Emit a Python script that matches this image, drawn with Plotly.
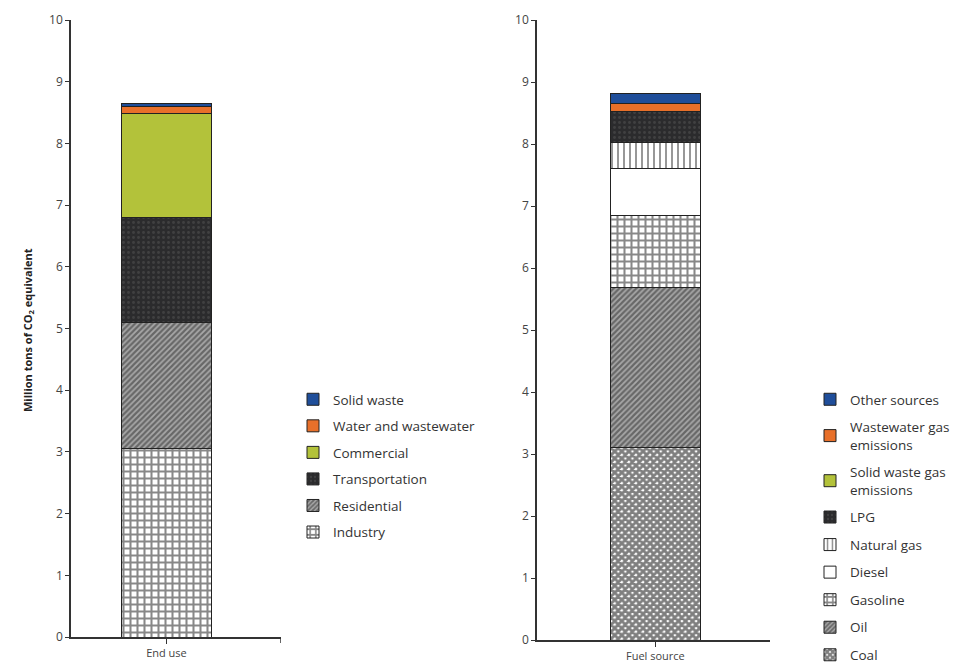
import plotly.graph_objects as go

# ---- data ----
end_use_cat = ["End use"]
end_use_names = ["Industry", "Residential", "Transportation", "Commercial",
                 "Water and wastewater", "Solid waste"]
end_use_vals = [3.05, 2.05, 1.70, 1.68, 0.12, 0.05]

fuel_cat = ["Fuel source"]
fuel_names = ["Coal", "Oil", "Gasoline", "Diesel", "Natural gas", "LPG",
              "Solid waste gas<br>emissions", "Wastewater gas<br>emissions", "Other sources"]
fuel_vals = [3.11, 2.57, 1.17, 0.75, 0.43, 0.50, 0.0, 0.12, 0.16]

y_ticks = [0, 1, 2, 3, 4, 5, 6, 7, 8, 9, 10]

# ---- styles ----
BLUE = "#1f4e9a"
ORANGE = "#e8702a"
GREEN = "#b3c23a"
DARK = "#2b2b2d"

GRID = dict(color="white", pattern=dict(shape="+", fgcolor="#111", bgcolor="white", size=7, solidity=0.5))
DIAG = dict(color="#999", pattern=dict(shape="/", fgcolor="#262626", bgcolor="#a8a8a8", size=4, solidity=0.55))
DOTS = dict(color=DARK, pattern=dict(shape=".", fgcolor="#555", bgcolor=DARK, size=5, solidity=0.25))

end_use_styles = [GRID, DIAG, DOTS, dict(color=GREEN), dict(color=ORANGE), dict(color=BLUE)]
fuel_styles = [
    dict(color="white", pattern=dict(shape="x", fgcolor="#000", bgcolor="white", size=5, solidity=0.8)),
    DIAG,
    GRID,
    dict(color="white"),
    dict(color="white", pattern=dict(shape="|", fgcolor="#1a1a1a", bgcolor="white", size=6, solidity=0.3)),
    DOTS,
    dict(color=GREEN),
    dict(color=ORANGE),
    dict(color=BLUE),
]

fig = go.Figure()
for i, (name, v, st) in enumerate(zip(end_use_names, end_use_vals, end_use_styles)):
    fig.add_trace(go.Bar(x=end_use_cat, y=[v], name=name, width=0.47, legendgroup="a" + name,
                         legendrank=100 - i,
                         marker=dict(line=dict(color="#222", width=1), **st),
                         xaxis="x", yaxis="y", legend="legend"))
for i, (name, v, st) in enumerate(zip(fuel_names, fuel_vals, fuel_styles)):
    fig.add_trace(go.Bar(x=fuel_cat, y=[v], name=name, width=0.47, legendgroup="b" + name,
                         legendrank=100 - i,
                         marker=dict(line=dict(color="#222", width=1), **st),
                         xaxis="x2", yaxis="y2", legend="legend2"))

W, H = 956, 666
FONT = "Open Sans, Liberation Sans, sans-serif"
axis_font = dict(family=FONT, size=12, color="#444")
yax = dict(range=[0, 10], tickvals=y_ticks, showline=True, linecolor="#333", linewidth=1.5,
           ticks="outside", ticklen=4, tickcolor="#333", showgrid=False, zeroline=False,
           tickfont=axis_font, fixedrange=True, automargin=False)
xax = dict(showline=True, linecolor="#333", linewidth=1.5,
           ticks="outside", ticklen=5, tickcolor="#333", showgrid=False, zeroline=False,
           tickfont=dict(family=FONT, size=11, color="#444"), automargin=False)

legend_font = dict(family=FONT, size=13.5, color="#333")

fig.update_layout(
    width=W, height=H,
    margin=dict(l=0, r=0, t=0, b=0, autoexpand=False),
    paper_bgcolor="white", plot_bgcolor="white",
    barmode="stack",
    xaxis=dict(domain=[71 / W, 281 / W], anchor="y", range=[-0.5, 0.6], **xax),
    yaxis=dict(domain=[29 / H, 646 / H], anchor="x", **yax),
    xaxis2=dict(domain=[537 / W, 770 / W], anchor="y2", range=[-0.62, 0.6], **xax),
    yaxis2=dict(domain=[26 / H, 646 / H], anchor="x2", **yax),
    legend=dict(x=293 / W, y=(H - 384) / H, xanchor="left", yanchor="top",
                traceorder="grouped", font=legend_font, tracegroupgap=6,
                itemwidth=30, bgcolor="rgba(0,0,0,0)"),
    legend2=dict(x=810 / W, y=(H - 384) / H, xanchor="left", yanchor="top",
                 traceorder="grouped", font=legend_font, tracegroupgap=7,
                 itemwidth=30, bgcolor="rgba(0,0,0,0)"),
    annotations=[dict(text="<b>Million tons of CO<sub>2</sub> equivalent</b>",
                      x=18 / W, y=(H - 330) / H, xref="paper", yref="paper",
                      textangle=-90, showarrow=False,
                      font=dict(family=FONT, size=11, color="#222"))],
    shapes=[
        dict(type="line", xref="x", yref="paper", x0=0.6, x1=0.6,
             y0=29 / H, y1=23 / H, line=dict(color="#333", width=1.5)),
    ],
)

fig.write_html("out.html")
